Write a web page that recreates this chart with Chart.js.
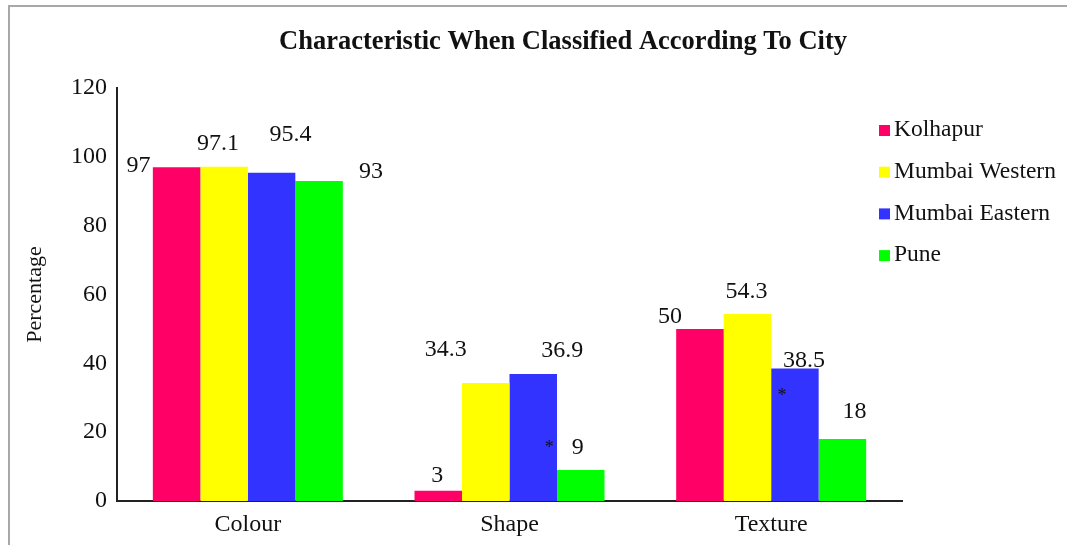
<!DOCTYPE html>
<html>
<head>
<meta charset="utf-8">
<script src="https://cdn.jsdelivr.net/npm/chart.js@4"></script>
<style>
    html, body { margin: 0; padding: 0; background: #fff; }
    .frame {
        position: absolute; left: 8px; top: 5px; width: 1059px; height: 540px;
        border-left: 2px solid #a8a8a8; border-top: 2px solid #a8a8a8;
    }
    .wrap { position: absolute; left: 0; top: 0; width: 1067px; height: 545px; }
</style>
</head>
<body>
<div class="frame"></div>
<div class="wrap"><canvas id="chart"></canvas></div>
<script>
/* DATA */
const categories = ['Colour', 'Shape', 'Texture']
const cities = ['Kolhapur', 'Mumbai Western', 'Mumbai Eastern', 'Pune']
const kolhapur = [97, 3, 50]
const mumbaiWestern = [97.1, 34.3, 54.3]
const mumbaiEastern = [95.4, 36.9, 38.5]
const pune = [93, 9, 18]
const yTicks = [0, 20, 40, 60, 80, 100, 120]
// significance marks: [dataset index, category index]
const starred = [[2, 1], [2, 2]]

const TITLE = 'Characteristic When Classified According To City'
const colors = ['#ff0066', '#ffff00', '#3333ff', '#00ff00']
const FONT = "'Liberation Serif', 'Times New Roman', serif"

/* label placement relative to bar top centre (dx, dy), per city then category */
const labelShift = [
    [[-38, -1], [-1, -15], [-30, -12]],
    [[-6, -23], [-40, -33], [-1, -22]],
    [[19, -38], [29, -23], [9, -8]],
    [[52, -9], [-3, -22], [12, -27]]
]
const starShift = [[16, 71], [-13, 25]]

const valueLabels = {
    id: 'valueLabels',
    afterDatasetsDraw(chart) {
        const ctx = chart.ctx
        ctx.save()
        ctx.fillStyle = '#111'
        ctx.font = `24px ${FONT}`
        ctx.textAlign = 'center'
        ctx.textBaseline = 'middle'
        chart.data.datasets.forEach((ds, i) => {
            chart.getDatasetMeta(i).data.forEach((bar, j) => {
                const [dx, dy] = labelShift[i][j]
                ctx.fillText(String(ds.data[j]), bar.x + dx, bar.y + dy)
            })
        })
        ctx.font = `18px ${FONT}`
        starred.forEach(([i, j], k) => {
            const bar = chart.getDatasetMeta(i).data[j]
            ctx.fillText('*', bar.x + starShift[k][0], bar.y + starShift[k][1] + 3)
        })
        ctx.restore()
    }
}

const headAndLegend = {
    id: 'headAndLegend',
    afterDraw(chart) {
        const ctx = chart.ctx
        ctx.save()
        ctx.fillStyle = '#111'
        ctx.textBaseline = 'middle'
        ctx.textAlign = 'center'
        ctx.font = `bold 26.5px ${FONT}`
        ctx.fillText(TITLE, 563, 42)

        ctx.font = `23.5px ${FONT}`
        ctx.textAlign = 'left'
        chart.data.datasets.forEach((ds, i) => {
            const y = 130 + i * 41.7
            ctx.fillStyle = ds.backgroundColor
            ctx.fillRect(879, y - 5, 11, 11)
            ctx.fillStyle = '#111'
            ctx.fillText(ds.label, 894, y)
        })
        ctx.restore()
    }
}

const series = [kolhapur, mumbaiWestern, mumbaiEastern, pune]

new Chart(document.getElementById('chart'), {
    type: 'bar',
    data: {
        labels: categories,
        datasets: cities.map((name, i) => ({
            label: name,
            data: series[i],
            backgroundColor: colors[i],
            borderWidth: 0,
            categoryPercentage: 0.726,
            barPercentage: 1
        }))
    },
    options: {
        responsive: true,
        maintainAspectRatio: false,
        animation: false,
        layout: { padding: { top: 88, left: 0, right: 165, bottom: 0 } },
        plugins: {
            legend: { display: false },
            tooltip: { enabled: false },
            title: { display: false }
        },
        scales: {
            x: {
                grid: { display: false, drawTicks: false },
                border: { display: true, color: '#222', width: 2 },
                ticks: { color: '#111', padding: 9, font: { family: FONT, size: 24 } },
                afterFit: (s) => { s.height = 44 }
            },
            y: {
                min: 0,
                max: 120,
                afterBuildTicks: (s) => { s.ticks = yTicks.map((v) => ({ value: v })) },
                grid: { display: false, drawTicks: false },
                border: { display: true, color: '#222', width: 2 },
                ticks: { color: '#111', padding: 10, font: { family: FONT, size: 24 } },
                title: {
                    display: true,
                    text: 'Percentage',
                    color: '#111',
                    font: { family: FONT, size: 22 },
                    padding: { top: 22, bottom: 0 }
                },
                afterFit: (s) => { s.width = 117 }
            }
        }
    },
    plugins: [valueLabels, headAndLegend]
})
</script>
</body>
</html>
